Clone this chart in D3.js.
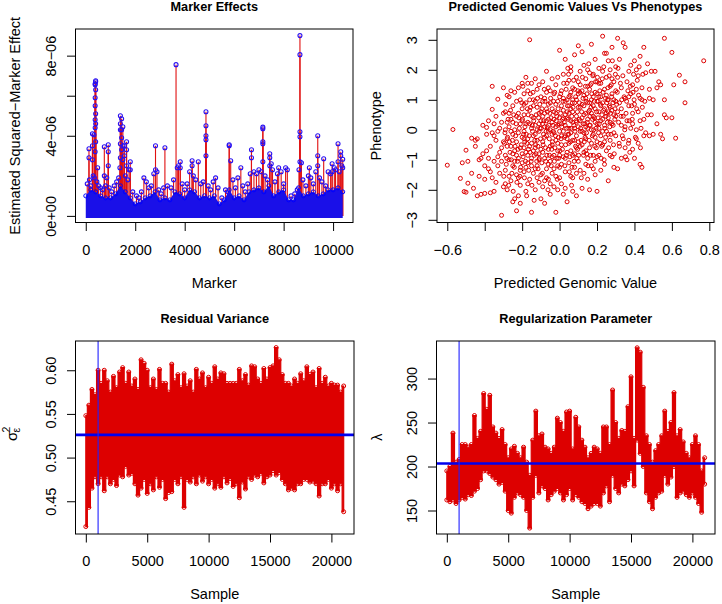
<!DOCTYPE html>
<html><head><meta charset="utf-8">
<script src="https://cdn.jsdelivr.net/npm/d3@7"></script>
<style>
body{margin:0;background:#fff}
svg{display:block}
text{font-family:"Liberation Sans",Arial,Helvetica,sans-serif;fill:#000}
</style>
</head><body>
<svg id="chart" width="722" height="604"></svg>
<script>
// ---------------- DATA ----------------
// Panel 1: Marker effects (effects in units of 1e-6)
const markerFloorPos = [0,200,400,600,800,1000,1200,1400,1600,1800,2000,2200,2400,2600,2800,3000,3200,3400,3600,3800,4000,4200,4400,4600,4800,5000,5200,5400,5600,5800,6000,6200,6400,6600,6800,7000,7200,7400,7600,7800,8000,8200,8400,8600,8800,9000,9200,9400,9600,9800,10000,10200,10390];
const markerFloorEff = [1.0,1.3,1.2,1.0,0.9,0.9,1.1,1.5,1.2,0.9,0.6,0.7,0.9,1.0,1.2,0.8,0.9,0.8,1.2,1.1,0.9,1.3,1.2,0.9,1.0,0.9,1.0,0.6,0.8,1.3,0.9,1.0,0.8,1.2,1.3,1.4,1.2,1.5,1.0,1.2,1.3,0.8,0.8,1.4,1.0,1.1,1.2,1.0,1.1,1.3,1.3,1.4,1.2];
const markerPeaks = [
 [130,3.35],[130,2.9],[270,4.1],[270,3.5],[270,2.8],[330,4.05],
 [380,6.55],[380,6.6],[380,5.9],[380,5.5],[380,4.8],[380,4.4],[380,3.2],
 [400,6.75],[400,6.7],[400,6.3],[400,5.1],[400,4.6],[400,3.7],[480,2.4],
 [750,3.45],[750,2.0],[910,3.55],[910,3.2],[910,2.5],
 [1400,5.0],[1400,4.6],[1400,4.3],[1400,3.6],[1400,2.9],[1450,4.85],[1450,4.3],[1450,3.9],[1450,3.3],
 [1500,4.45],[1500,3.5],[1500,2.8],[1560,3.5],[1560,3.0],[1650,3.7],[1650,3.3],[1650,2.5],[1800,2.7],[1800,2.3],
 [2820,3.5],[2820,2.3],[3200,3.4],[3650,7.55],[3700,2.4],[3820,2.7],[3820,2.4],[4300,2.75],[4300,2.5],[4550,2.7],
 [4860,5.2],[4860,4.5],[4860,4.0],[4860,3.8],[4860,3.0],[5800,3.55],[5800,3.5],[5860,2.75],[6270,2.4],
 [6700,3.3],[6700,2.9],[7160,4.43],[7160,4.35],[7160,3.7],[7160,3.6],[7160,2.7],[7440,3.1],[7440,2.9],[7440,2.5],
 [7800,2.4],[8080,2.4],[8660,9.0],[8660,8.05],[8660,4.2],[8660,3.95],[8660,2.7],[8720,2.65],[9040,2.4],
 [9380,4.0],[9380,3.0],[9380,2.5],[9620,2.85],[9960,2.6],[9960,2.2],[10200,3.6],[10200,2.7],[10310,3.2],[10310,3.0],[10390,2.83],[10390,2.4],
 [60,1.6],[150,1.8],[200,1.5],[300,2.0],[350,1.9],[450,1.7],[520,1.5],[600,1.4],[680,1.3],[800,1.5],[850,1.9],[950,1.4],
 [1050,1.2],[1150,1.5],[1250,1.7],[1330,1.9],[1380,2.4],[1600,2.0],[1700,1.8],[1750,2.3],[1900,1.2],[2050,1.0],[2150,0.9],
 [2250,1.2],[2350,1.9],[2450,1.7],[2550,1.4],[2650,1.5],[2750,2.1],[2880,2.2],[2950,1.3],[3050,1.1],[3150,1.4],[3300,1.5],
 [3450,1.4],[3550,1.8],[3750,2.5],[3900,1.6],[4000,1.3],[4100,1.6],[4200,2.2],[4350,2.0],[4450,1.8],[4650,1.6],[4750,1.7],
 [4950,1.5],[5050,1.3],[5150,1.7],[5250,1.9],[5350,1.4],[5500,0.9],[5650,1.3],[5750,1.2],[5950,1.8],[6050,1.4],[6150,1.9],
 [6350,1.5],[6450,1.2],[6550,1.6],[6650,2.1],[6800,2.2],[6900,2.1],[7000,2.3],[7100,2.2],[7250,2.0],[7350,1.8],[7500,2.6],
 [7550,2.3],[7650,1.7],[7750,2.1],[7900,2.2],[8000,1.6],[8150,2.3],[8300,1.0],[8450,1.1],[8550,1.3],[8620,2.3],[8780,1.8],
 [8900,1.5],[9000,2.0],[9100,1.9],[9200,1.6],[9300,2.2],[9450,1.9],[9550,1.7],[9700,1.5],[9800,2.2],[9900,2.1],[10050,2.4],
 [10100,2.3],[10250,2.2],[10350,2.5]
];
const p1XTicks = [0,2000,4000,6000,8000,10000];
const p1XLabels = ["0","2000","4000","6000","8000","10000"];
const p1YTicks = [0,2,4,6,8];
const p1YLabels = ["0e+00","","4e\u221206","","8e\u221206"];

// Panel 2: predicted genomic value vs phenotype
const gvPheno = [
 [-0.60,-1.18],[-0.57,0.01],[-0.53,-1.62],[-0.51,-2.06],[-0.50,-2.08],[-0.50,-0.68],[-0.49,-1.05],[-0.52,-1.10],[-0.47,-1.45],[-0.46,-1.95],
 [-0.45,-0.35],[-0.45,-0.55],[-0.44,-2.20],[-0.43,-1.55],[-0.42,-2.15],[-0.42,-0.95],[-0.41,0.15],[-0.40,-1.20],[-0.41,-0.80],[-0.49,-1.78],
 [-0.44,-0.30],[-0.40,-1.65],[-0.43,-1.00],[-0.47,-0.28],[-0.40,-2.12],
 [-0.39,-0.70],[-0.38,0.30],[-0.38,-1.30],[-0.37,-0.55],[-0.37,-2.10],[-0.36,1.45],[-0.36,-0.10],[-0.35,-1.05],[-0.35,0.20],[-0.34,-1.75],
 [-0.34,-0.35],[-0.33,1.02],[-0.33,-0.90],[-0.32,0.05],[-0.32,-1.45],[-0.31,-2.85],[-0.31,-0.60],[-0.30,1.40],[-0.30,0.55],[-0.30,-1.90],
 [-0.39,-0.15],[-0.38,-0.95],[-0.36,-1.60],[-0.35,-0.20],[-0.34,0.45],[-0.33,-1.20],[-0.32,-0.75],[-0.31,0.25],[-0.37,-1.40],[-0.39,0.08],
 [-0.30,-0.40],[-0.33,-0.05],[-0.35,-2.05],[-0.31,-1.05],[-0.36,0.68],
 [-0.29,-0.85],[-0.29,0.60],[-0.29,-1.35],[-0.28,1.15],[-0.28,-0.30],[-0.28,-2.00],[-0.27,0.10],[-0.27,-1.00],[-0.27,1.10],[-0.26,-0.55],
 [-0.26,-1.70],[-0.26,0.35],[-0.25,-2.40],[-0.25,-0.15],[-0.25,0.80],[-0.25,-1.20],[-0.24,-0.70],[-0.24,1.25],[-0.24,0.00],[-0.23,-2.70],
 [-0.23,-1.50],[-0.23,0.45],[-0.23,-0.40],[-0.22,1.40],[-0.22,-0.95],[-0.22,-2.20],[-0.21,0.20],[-0.21,-0.60],[-0.21,1.00],[-0.21,-1.85],
 [-0.20,-0.25],[-0.20,0.70],[-0.20,-1.10],[-0.20,1.55],[-0.29,0.00],[-0.28,-0.55],[-0.27,-1.55],[-0.26,-0.05],[-0.25,0.25],[-0.24,-1.05],
 [-0.23,0.95],[-0.22,-0.10],[-0.21,-1.35],[-0.20,0.30],[-0.29,-1.80],[-0.27,0.55],[-0.25,-0.80],[-0.23,-0.85],[-0.22,0.55],[-0.21,-2.45],
 [-0.26,1.30],[-0.24,-2.30],[-0.28,0.25],[-0.22,-1.60],[-0.20,-0.80],
 [-0.19,-1.40],[-0.19,0.50],[-0.19,-0.05],[-0.19,1.20],[-0.18,-0.75],[-0.18,-2.05],[-0.18,0.90],[-0.18,1.75],[-0.17,-0.30],[-0.17,-1.10],
 [-0.17,0.25],[-0.17,1.30],[-0.16,3.00],[-0.16,-1.65],[-0.16,-0.55],[-0.16,0.65],[-0.15,-2.75],[-0.15,0.05],[-0.15,1.55],[-0.15,-0.95],
 [-0.14,-0.20],[-0.14,1.00],[-0.14,-1.45],[-0.14,0.40],[-0.13,-2.00],[-0.13,-0.60],[-0.13,1.70],[-0.13,0.15],[-0.12,-1.20],[-0.12,0.75],
 [-0.12,-0.35],[-0.12,1.35],[-0.11,-1.75],[-0.11,-0.05],[-0.11,0.55],[-0.11,-0.80],[-0.10,1.10],[-0.10,-1.50],[-0.10,0.30],[-0.10,-2.30],
 [-0.19,-0.60],[-0.18,0.20],[-0.17,-1.80],[-0.16,1.00],[-0.15,-0.45],[-0.14,0.80],[-0.13,-1.30],[-0.12,0.00],[-0.11,1.50],[-0.10,-0.65],
 [-0.19,0.85],[-0.17,-0.85],[-0.15,0.45],[-0.13,-0.15],[-0.11,-1.00],[-0.18,-1.25],[-0.16,0.20],[-0.14,-0.70],[-0.12,-1.60],[-0.10,0.60],
 [-0.17,1.55],[-0.13,0.95],[-0.11,0.20],[-0.19,-0.30],[-0.15,-1.20],
 [-0.09,-0.40],[-0.09,1.60],[-0.09,-1.90],[-0.09,0.45],[-0.08,-2.45],[-0.08,-0.95],[-0.08,0.10],[-0.08,1.05],[-0.07,-1.30],[-0.07,0.70],
 [-0.07,-0.20],[-0.07,1.95],[-0.06,-0.65],[-0.06,-1.65],[-0.06,0.35],[-0.06,1.40],[-0.05,-2.15],[-0.05,0.00],[-0.05,-1.05],[-0.05,0.90],
 [-0.04,1.70],[-0.04,-0.50],[-0.04,-1.45],[-0.04,0.25],[-0.03,-0.85],[-0.03,1.20],[-0.03,-0.10],[-0.03,-1.90],[-0.02,-2.75],[-0.02,0.55],
 [-0.02,-0.35],[-0.02,1.50],[-0.01,-1.20],[-0.01,0.15],[-0.01,0.95],[-0.01,-0.70],[0.00,2.65],[0.00,-1.60],[0.00,0.40],[0.00,-0.05],
 [-0.09,-0.75],[-0.08,0.55],[-0.07,-1.60],[-0.06,-0.05],[-0.05,1.30],[-0.04,-0.90],[-0.03,0.60],[-0.02,-1.55],[-0.01,1.75],[0.00,-0.85],
 [-0.09,0.95],[-0.08,-0.25],[-0.07,0.30],[-0.06,-1.15],[-0.05,-0.55],[-0.04,0.70],[-0.03,-1.30],[-0.02,0.10],[-0.01,-0.45],[0.00,1.10],
 [-0.08,-1.70],[-0.06,0.85],[-0.04,-0.15],[-0.02,0.85],[0.00,-1.25],[-0.07,1.25],[-0.05,-1.80],[-0.03,0.35],[-0.01,-2.00],[-0.09,0.20],
 [0.01,-0.50],[0.01,1.30],[0.01,-1.80],[0.01,0.20],[0.02,-2.15],[0.02,0.65],[0.02,-0.90],[0.02,1.85],[0.03,-0.20],[0.03,-1.40],
 [0.03,0.95],[0.03,2.35],[0.04,-0.75],[0.04,0.40],[0.04,-2.40],[0.04,1.55],[0.05,0.05],[0.05,-1.10],[0.05,1.10],[0.05,-0.45],
 [0.06,2.10],[0.06,-1.55],[0.06,0.70],[0.06,-0.10],[0.07,-0.85],[0.07,1.40],[0.07,0.25],[0.07,-2.05],[0.08,2.50],[0.08,-0.35],
 [0.08,0.90],[0.08,-1.25],[0.09,0.45],[0.09,-0.60],[0.09,1.75],[0.09,-2.20],[0.10,2.80],[0.10,0.10],[0.10,-1.05],[0.10,1.20],
 [0.01,0.80],[0.02,-0.05],[0.03,-0.95],[0.04,0.60],[0.05,1.65],[0.06,0.30],[0.07,-1.60],[0.08,0.05],[0.09,1.00],[0.10,-0.40],
 [0.01,-1.15],[0.02,1.05],[0.03,0.15],[0.04,-0.30],[0.05,0.55],[0.06,-0.70],[0.07,0.60],[0.08,1.35],[0.09,-0.20],[0.10,0.75],
 [0.02,0.40],[0.04,1.00],[0.06,1.25],[0.08,-0.80],[0.10,1.60],[0.03,-1.95],[0.05,-0.15],[0.07,1.00],[0.09,0.25],[0.01,-0.20],
 [0.05,0.80],[0.03,0.50],[0.07,-0.35],[0.09,-1.45],[0.06,1.95],
 [0.11,-0.55],[0.11,1.50],[0.11,0.30],[0.11,-1.35],[0.12,2.60],[0.12,-0.05],[0.12,0.85],[0.12,-1.95],[0.13,1.15],[0.13,-0.75],
 [0.13,0.50],[0.13,2.15],[0.14,-1.15],[0.14,0.10],[0.14,1.70],[0.14,-0.30],[0.15,0.90],[0.15,-1.65],[0.15,2.00],[0.15,0.35],
 [0.16,-0.60],[0.16,1.35],[0.16,-2.00],[0.16,0.65],[0.17,2.85],[0.17,0.00],[0.17,-1.20],[0.17,1.00],[0.18,0.45],[0.18,-0.85],
 [0.18,1.85],[0.18,-0.15],[0.19,1.25],[0.19,-1.50],[0.19,0.70],[0.19,2.35],[0.20,-0.40],[0.20,0.20],[0.20,1.60],[0.20,-2.05],
 [0.11,0.75],[0.12,-0.50],[0.13,-0.10],[0.14,0.55],[0.15,-0.95],[0.16,0.15],[0.17,0.55],[0.18,1.10],[0.19,-0.25],[0.20,0.95],
 [0.11,-0.05],[0.12,1.30],[0.13,-1.45],[0.14,1.05],[0.15,0.05],[0.16,1.90],[0.17,-0.45],[0.18,0.80],[0.19,0.25],[0.20,-0.90],
 [0.12,0.40],[0.14,-0.70],[0.16,0.90],[0.18,-1.30],[0.20,1.20],[0.13,0.80],[0.15,1.45],[0.17,1.55],[0.19,-1.05],[0.11,1.95],
 [0.21,0.60],[0.21,-0.85],[0.21,2.05],[0.21,1.10],[0.22,-0.20],[0.22,1.55],[0.22,0.30],[0.22,-1.35],[0.23,3.12],[0.23,0.90],
 [0.23,-0.50],[0.23,1.95],[0.24,0.15],[0.24,-1.15],[0.24,1.35],[0.24,2.55],[0.25,-0.70],[0.25,0.55],[0.25,1.75],[0.25,-0.05],
 [0.26,2.30],[0.26,1.00],[0.26,-1.70],[0.26,0.40],[0.27,-0.35],[0.27,1.45],[0.27,0.75],[0.27,2.00],[0.28,-0.90],[0.28,0.20],
 [0.28,1.20],[0.28,2.75],[0.29,0.50],[0.29,-1.25],[0.29,1.60],[0.30,-0.20],[0.30,0.95],[0.30,2.10],[0.21,0.05],[0.22,0.80],
 [0.23,-0.05],[0.24,0.70],[0.25,1.15],[0.26,-0.15],[0.27,0.25],[0.28,0.65],[0.29,-0.10],[0.30,0.45],[0.31,3.05],[0.31,-1.30],
 [0.22,1.10],[0.24,-0.40],[0.26,0.60],[0.28,1.70],[0.30,1.30],[0.23,0.35],[0.25,2.55],[0.27,-0.85],[0.29,1.00],[0.21,1.55],
 [0.31,0.60],[0.31,1.75],[0.32,-0.55],[0.32,0.90],[0.32,2.35],[0.33,0.15],[0.33,1.40],[0.33,-0.95],[0.34,2.90],[0.34,0.45],
 [0.34,-0.30],[0.35,1.05],[0.35,2.75],[0.35,-0.60],[0.36,0.30],[0.36,1.60],[0.36,-1.00],[0.37,0.80],[0.37,1.95],[0.37,-0.35],
 [0.38,0.05],[0.38,1.20],[0.38,2.15],[0.39,-0.65],[0.39,0.55],[0.39,1.50],[0.40,2.30],[0.40,-0.95],[0.40,0.85],[0.41,0.00],
 [0.41,1.35],[0.41,2.00],[0.42,-0.45],[0.42,0.60],[0.42,1.80],[0.43,-1.15],[0.43,2.45],[0.43,0.30],[0.44,1.00],[0.44,-1.25],
 [0.44,1.40],[0.45,0.35],[0.45,2.75],[0.45,-0.20],[0.33,0.70],[0.35,0.10],[0.37,1.10],[0.39,0.20],[0.41,-0.30],[0.43,1.05],
 [0.46,1.90],[0.46,-0.10],[0.47,0.50],[0.47,2.20],[0.48,-0.20],[0.48,1.05],[0.49,0.50],[0.49,1.95],[0.50,-0.15],[0.50,1.00],
 [0.51,1.95],[0.52,0.20],[0.53,1.60],[0.54,-0.15],[0.54,1.50],[0.55,-0.30],[0.56,0.50],[0.56,1.00],[0.56,3.05],[0.57,0.40],
 [0.60,2.58],[0.60,0.40],[0.61,1.50],[0.62,-0.28],[0.64,1.82],[0.67,1.60],[0.67,0.90],[0.77,2.30],[0.48,1.35],[0.52,1.40],
 [-0.295,-0.45],[-0.285,-1.15],[-0.275,0.35],[-0.265,-0.75],[-0.255,-1.45],[-0.245,0.50],[-0.235,-0.20],[-0.225,-1.05],[-0.215,0.05],[-0.205,-0.50],
 [-0.292,-0.10],[-0.282,-0.95],[-0.272,-1.85],[-0.262,0.65],[-0.252,-0.35],[-0.242,-1.25],[-0.232,0.20],[-0.222,-0.65],[-0.212,-1.55],[-0.202,0.90],
 [-0.298,-1.55],[-0.278,-0.25],[-0.258,-1.00],[-0.238,-0.55],[-0.218,0.40],[-0.208,-1.25],[-0.288,0.85],[-0.268,-0.40],[-0.248,-2.05],[-0.228,-1.75],
 [-0.195,-0.90],[-0.185,0.10],[-0.175,-0.45],[-0.165,-1.35],[-0.155,0.75],[-0.145,-0.05],[-0.135,-0.85],[-0.125,0.50],[-0.115,-1.30],[-0.105,0.05],
 [-0.198,0.35],[-0.188,-1.60],[-0.178,-0.15],[-0.168,0.50],[-0.158,-0.75],[-0.148,-1.85],[-0.138,0.30],[-0.128,-0.50],[-0.118,1.05],[-0.108,-0.95],
 [-0.192,-0.15],[-0.182,-1.05],[-0.172,0.70],[-0.162,-0.20],[-0.152,-1.05],[-0.142,1.25],[-0.132,-0.35],[-0.122,-1.05],[-0.112,0.40],[-0.102,-0.30],
 [-0.196,1.45],[-0.176,-2.20],[-0.156,1.20],[-0.136,-2.35],[-0.116,-0.55],[-0.186,-0.40],[-0.166,-0.65],[-0.146,0.15],[-0.126,-0.80],[-0.106,0.85],
 [-0.095,-1.10],[-0.085,0.30],[-0.075,-0.60],[-0.065,0.60],[-0.055,-0.30],[-0.045,-1.20],[-0.035,0.15],[-0.025,-0.60],[-0.015,0.45],[-0.005,-0.95],
 [-0.098,0.05],[-0.088,-0.50],[-0.078,0.95],[-0.068,-0.85],[-0.058,0.15],[-0.048,1.05],[-0.038,-0.40],[-0.028,-1.05],[-0.018,0.30],[-0.008,0.70],
 [-0.092,-1.45],[-0.082,1.35],[-0.072,-0.05],[-0.062,-2.00],[-0.052,0.55],[-0.042,-0.65],[-0.032,0.95],[-0.022,-0.20],[-0.012,-1.65],[-0.002,0.20],
 [-0.094,0.70],[-0.074,-1.05],[-0.054,-0.85],[-0.034,-0.05],[-0.014,-0.95],[-0.086,-0.15],[-0.066,0.10],[-0.046,0.40],[-0.026,1.25],[-0.006,-0.25],
 [0.005,0.55],[0.015,-0.65],[0.025,0.25],[0.035,1.35],[0.045,-0.15],[0.055,-0.90],[0.065,0.45],[0.075,1.65],[0.085,-0.55],[0.095,0.60],
 [0.008,-0.30],[0.018,0.95],[0.028,-1.20],[0.038,0.05],[0.048,1.85],[0.058,-0.40],[0.068,0.90],[0.078,-1.05],[0.088,0.30],[0.098,1.30],
 [0.002,-0.70],[0.012,0.10],[0.022,1.55],[0.032,-0.50],[0.042,0.80],[0.052,-1.40],[0.062,0.05],[0.072,0.75],[0.082,-0.05],[0.092,-0.95],
 [0.006,1.20],[0.026,-0.25],[0.046,0.35],[0.066,-1.25],[0.086,1.10],[0.016,0.35],[0.036,-0.85],[0.056,1.15],[0.076,0.15],[0.096,-0.65],
 [0.044,2.05],[0.064,-1.85],
 [0.105,0.35],[0.115,-0.35],[0.125,1.05],[0.135,0.20],[0.145,-0.80],[0.155,0.60],[0.165,1.50],[0.175,-0.20],[0.185,0.95],[0.195,0.05],
 [0.108,1.25],[0.118,0.60],[0.128,-0.85],[0.138,1.45],[0.148,0.25],[0.158,-0.35],[0.168,0.75],[0.178,1.80],[0.188,-0.55],[0.198,0.60],
 [0.102,-0.85],[0.112,0.05],[0.122,1.75],[0.132,-0.40],[0.142,0.95],[0.152,-1.20],[0.162,0.45],[0.172,1.20],[0.182,0.00],[0.192,1.60],
 [0.106,0.90],[0.126,0.20],[0.146,1.20],[0.166,-0.85],[0.186,0.40],[0.116,-1.60],[0.136,-0.25],[0.156,2.20],[0.176,0.35],[0.196,-0.60],
 [0.144,-0.10],[0.164,0.15],
 [0.205,0.40],[0.215,1.30],[0.225,-0.55],[0.235,0.65],[0.245,1.05],[0.255,0.25],[0.265,1.80],[0.275,-0.15],[0.285,0.90],[0.295,0.35],
 [0.208,-0.10],[0.218,0.85],[0.228,1.70],[0.238,-1.00],[0.248,0.45],[0.258,1.40],[0.268,0.10],[0.278,1.10],[0.288,-0.50],[0.298,1.85],
 [0.202,1.75],[0.212,0.20],[0.222,-0.95],[0.232,1.25],[0.242,0.05],[0.252,0.90],[0.262,-0.60],[0.272,0.55],[0.282,2.30],[0.292,-0.80],
 [0.206,0.95],[0.226,0.50],[0.246,-0.25],[0.266,0.80],[0.286,0.15],[0.216,-0.45],[0.236,2.10],[0.256,1.00],[0.276,1.50],[0.296,0.70],
 [0.305,0.85],[0.315,0.25],[0.325,1.55],[0.335,-0.20],[0.345,1.10],[0.355,0.55],[0.365,1.30],[0.375,-0.75],[0.385,0.80],[0.395,1.85],
 [0.308,1.25],[0.318,-0.45],[0.328,0.45],[0.338,1.80],[0.348,0.00],[0.358,0.95],[0.368,-0.45],[0.378,1.45],[0.388,0.35],[0.398,1.00],
 [0.312,2.05],[0.332,1.00],[0.352,-0.90],[0.372,0.30],[0.392,1.25],[0.412,0.70],[0.422,1.15],[0.432,-0.60],[0.442,0.75],[0.415,1.65],
 [0.435,0.05],[0.425,2.10],[0.405,-0.25],[0.445,1.85],[0.455,0.95]
];
const p2XTicks = [-0.6,-0.4,-0.2,0,0.2,0.4,0.6,0.8];
const p2XLabels = ["\u22120.6","","\u22120.2","0.0","0.2","0.4","0.6","0.8"];
const p2YTicks = [-3,-2,-1,0,1,2,3];
const p2YLabels = ["\u22123","\u22122","\u22121","0","1","2","3"];

// Panel 3: residual variance trace (per-250-sample max / min)
const sampleIdx = [0,250,500,750,1000,1250,1500,1750,2000,2250,2500,2750,3000,3250,3500,3750,4000,4250,4500,4750,5000,5250,5500,5750,6000,6250,6500,6750,7000,7250,7500,7750,8000,8250,8500,8750,9000,9250,9500,9750,10000,10250,10500,10750,11000,11250,11500,11750,12000,12250,12500,12750,13000,13250,13500,13750,14000,14250,14500,14750,15000,15250,15500,15750,16000,16250,16500,16750,17000,17250,17500,17750,18000,18250,18500,18750,19000,19250,19500,19750,20000,20250,20500,20750,21000];
const resVarHigh = [0.548,0.560,0.578,0.572,0.600,0.585,0.600,0.588,0.575,0.593,0.580,0.598,0.603,0.585,0.598,0.582,0.590,0.578,0.612,0.608,0.600,0.580,0.590,0.578,0.601,0.585,0.585,0.575,0.607,0.588,0.595,0.580,0.596,0.582,0.588,0.575,0.601,0.590,0.597,0.580,0.592,0.585,0.604,0.590,0.597,0.596,0.585,0.585,0.585,0.585,0.601,0.588,0.595,0.583,0.605,0.604,0.590,0.585,0.602,0.590,0.603,0.605,0.626,0.612,0.595,0.585,0.585,0.582,0.590,0.585,0.596,0.588,0.604,0.595,0.598,0.580,0.602,0.585,0.592,0.582,0.585,0.583,0.583,0.575,0.582];
const resVarLow = [0.421,0.443,0.465,0.478,0.470,0.478,0.462,0.478,0.470,0.475,0.468,0.480,0.478,0.490,0.480,0.482,0.470,0.457,0.465,0.475,0.459,0.470,0.463,0.478,0.466,0.475,0.453,0.460,0.461,0.475,0.470,0.478,0.443,0.475,0.472,0.478,0.470,0.480,0.473,0.478,0.470,0.475,0.465,0.470,0.466,0.478,0.471,0.476,0.467,0.470,0.454,0.472,0.464,0.478,0.475,0.480,0.478,0.482,0.471,0.478,0.480,0.485,0.480,0.483,0.475,0.470,0.463,0.465,0.463,0.470,0.470,0.475,0.475,0.472,0.473,0.470,0.456,0.470,0.470,0.475,0.465,0.470,0.462,0.470,0.438];
const resVarMean = 0.526;
const burnIn = 1000;
const p3XTicks = [0,5000,10000,15000,20000];
const p3XLabels = ["0","5000","10000","15000","20000"];
const p3YTicks = [0.45,0.50,0.55,0.60];
const p3YLabels = ["0.45","0.50","0.55","0.60"];

// Panel 4: regularization parameter trace (per-250-sample max / min)
const lambdaHigh = [195,200,238,205,208,225,225,222,225,258,232,240,283,265,281,245,238,232,242,225,210,220,223,215,210,222,205,190,230,263,235,237,222,220,215,222,255,250,240,262,263,220,256,245,230,222,210,215,222,220,215,245,245,225,287,250,232,241,240,268,302,232,335,330,290,235,225,205,218,225,235,263,240,250,284,235,242,228,215,210,225,235,225,195,210];
const lambdaLow = [162,160,162,158,162,165,163,168,167,172,175,185,195,195,192,188,185,180,182,172,150,147,165,170,168,165,150,130,165,190,170,178,175,162,168,172,175,170,162,168,175,162,168,165,160,158,152,155,158,158,155,170,178,160,190,175,170,180,178,185,195,178,230,215,200,170,160,152,165,170,172,190,180,188,200,165,170,172,168,165,170,165,158,148,180];
const lambdaMean = 203.5;
const p4YTicks = [150,200,250,300];
const p4YLabels = ["150","200","250","300"];

// ---------------- DRAWING ----------------
const svg = d3.select("#chart");
const RED = "#dd0000", BLUE = "#0000ff";
let clipId = 0;

function panel(o) {
  const x = d3.scaleLinear().domain(o.xDomain).range([o.l, o.r]);
  const y = d3.scaleLinear().domain(o.yDomain).range([o.b, o.t]);
  const g = svg.append("g");
  const id = "clip" + (clipId++);
  svg.append("clipPath").attr("id", id).append("rect")
    .attr("x", o.l).attr("y", o.t).attr("width", o.r - o.l).attr("height", o.b - o.t);
  const marks = g.append("g").attr("clip-path", `url(#${id})`);
  const xa = g.append("g").attr("transform", `translate(0,${o.b})`)
    .call(d3.axisBottom(x).tickValues(o.xTicks).tickSize(8.5).tickSizeOuter(0)
      .tickFormat((d, i) => o.xLabels[i]));
  xa.select(".domain").remove();
  xa.selectAll(".tick line").attr("stroke", "#000");
  xa.selectAll(".tick text").attr("y", 32).attr("dy", 0)
    .style("font-size", "14.5px").style("font-family", null).attr("fill", "#000");
  const ya = g.append("g").attr("transform", `translate(${o.l},0)`)
    .call(d3.axisLeft(y).tickValues(o.yTicks).tickSize(8.5).tickSizeOuter(0)
      .tickFormat((d, i) => o.yLabels[i]));
  ya.select(".domain").remove();
  ya.selectAll(".tick line").attr("stroke", "#000");
  ya.selectAll(".tick text").attr("x", 0).attr("y", -20).attr("dy", 0)
    .attr("transform", "rotate(-90)").attr("text-anchor", "middle")
    .style("font-size", "14.5px").style("font-family", null).attr("fill", "#000");
  g.append("rect").attr("x", o.l).attr("y", o.t).attr("width", o.r - o.l).attr("height", o.b - o.t)
    .attr("fill", "none").attr("stroke", "#000").attr("stroke-width", 1);
  g.append("text").attr("x", (o.l + o.r) / 2).attr("y", o.t - 18).attr("text-anchor", "middle")
    .style("font-size", "12.7px").style("font-weight", "bold").text(o.title);
  g.append("text").attr("x", (o.l + o.r) / 2).attr("y", o.b + 65).attr("text-anchor", "middle")
    .style("font-size", "14.5px").text(o.xTitle);
  if (o.yTitle) {
    g.append("text").attr("transform", `translate(${o.l - 56},${(o.t + o.b) / 2}) rotate(-90)`)
      .attr("text-anchor", "middle").style("font-size", "14.5px").text(o.yTitle);
  }
  return {x, y, g, marks};
}

// ---- Panel 1 ----
{
  const p = panel({l:75.5, r:353, t:29, b:222.5, xDomain:[-415,10805], yDomain:[-0.33,9.33],
    xTicks:p1XTicks, xLabels:p1XLabels, yTicks:p1YTicks, yLabels:p1YLabels,
    title:"Marker Effects", xTitle:"Marker", yTitle:"Estimated Squared\u2212Marker Effect"});
  const floor = markerFloorPos.map((d, i) => [d, markerFloorEff[i]]);
  p.marks.selectAll(".stem").data(markerPeaks).join("line")
    .attr("x1", d => p.x(d[0])).attr("x2", d => p.x(d[0]))
    .attr("y1", p.y(0)).attr("y2", d => p.y(d[1]))
    .attr("stroke", "#e01010").attr("stroke-width", 1.1);
  p.marks.append("path").datum(floor)
    .attr("d", d3.area().x(d => p.x(d[0])).y0(p.y(0) + 2).y1(d => p.y(d[1])))
    .attr("fill", "#1a10e8");
  p.marks.selectAll(".fl").data(floor).join("circle")
    .attr("cx", d => p.x(d[0])).attr("cy", d => p.y(d[1])).attr("r", 2)
    .attr("fill", "none").attr("stroke", BLUE).attr("stroke-width", 1);
  p.marks.selectAll(".pk").data(markerPeaks).join("circle")
    .attr("cx", d => p.x(d[0])).attr("cy", d => p.y(d[1])).attr("r", 2)
    .attr("fill", "none").attr("stroke", "#2a10f0").attr("stroke-width", 1.1);
}

// ---- Panel 2 ----
{
  const p = panel({l:437, r:714, t:29, b:222.5, xDomain:[-0.655,0.825], yDomain:[-3.09,3.36],
    xTicks:p2XTicks, xLabels:p2XLabels, yTicks:p2YTicks, yLabels:p2YLabels,
    title:"Predicted Genomic Values Vs Phenotypes", xTitle:"Predicted Genomic Value", yTitle:"Phenotype"});
  p.marks.selectAll("circle").data(gvPheno).join("circle")
    .attr("cx", d => p.x(d[0])).attr("cy", d => p.y(d[1])).attr("r", 2)
    .attr("fill", "none").attr("stroke", RED).attr("stroke-width", 1);
}

function tracePanel(p, hi, lo, mean) {
  const pts = sampleIdx.map((s, i) => ({s, hi: hi[i], lo: lo[i]}));
  p.marks.append("path").datum(pts)
    .attr("d", d3.area().curve(d3.curveStep).x(d => p.x(d.s)).y0(d => p.y(d.lo)).y1(d => p.y(d.hi)))
    .attr("fill", RED).attr("stroke", RED).attr("stroke-width", 1.2);
  const ends = pts.flatMap(d => [[d.s, d.hi], [d.s, d.lo]]);
  p.marks.selectAll(".e").data(ends).join("circle")
    .attr("cx", d => p.x(d[0])).attr("cy", d => p.y(d[1])).attr("r", 2)
    .attr("fill", "none").attr("stroke", RED).attr("stroke-width", 1);
  p.marks.append("line").attr("x1", p.x.range()[0]).attr("x2", p.x.range()[1])
    .attr("y1", p.y(mean)).attr("y2", p.y(mean)).attr("stroke", "#0000ee").attr("stroke-width", 2.6);
  p.marks.append("line").attr("x1", p.x(burnIn)).attr("x2", p.x(burnIn))
    .attr("y1", p.y.range()[0]).attr("y2", p.y.range()[1]).attr("stroke", "#2020ff").attr("stroke-width", 1.1);
}

// ---- Panel 3 ----
{
  const p = panel({l:75.5, r:354, t:341, b:534, xDomain:[-840,21840], yDomain:[0.4125,0.6335],
    xTicks:p3XTicks, xLabels:p3XLabels, yTicks:p3YTicks, yLabels:p3YLabels,
    title:"Residual Variance", xTitle:"Sample", yTitle:null});
  tracePanel(p, resVarHigh, resVarLow, resVarMean);
  const lab = p.g.append("g").attr("transform", `translate(17,434) rotate(-90)`);
  lab.append("text").attr("x", -7).attr("y", 0).style("font-size", "15px").text("\u03c3");
  lab.append("text").attr("x", 1.5).attr("y", -7).style("font-size", "10.5px").text("2");
  lab.append("text").attr("x", 1.5).attr("y", 3).style("font-size", "10.5px").text("\u03b5");
}

// ---- Panel 4 ----
{
  const p = panel({l:436.5, r:715, t:341, b:534, xDomain:[-840,21840], yDomain:[123.3,342.7],
    xTicks:p3XTicks, xLabels:p3XLabels, yTicks:p4YTicks, yLabels:p4YLabels,
    title:"Regularization Parameter", xTitle:"Sample", yTitle:null});
  tracePanel(p, lambdaHigh, lambdaLow, lambdaMean);
  p.g.append("text").attr("transform", `translate(382,437) rotate(-90)`).attr("text-anchor", "middle")
    .style("font-size", "14.5px").text("\u03bb");
}
</script>
</body></html>
